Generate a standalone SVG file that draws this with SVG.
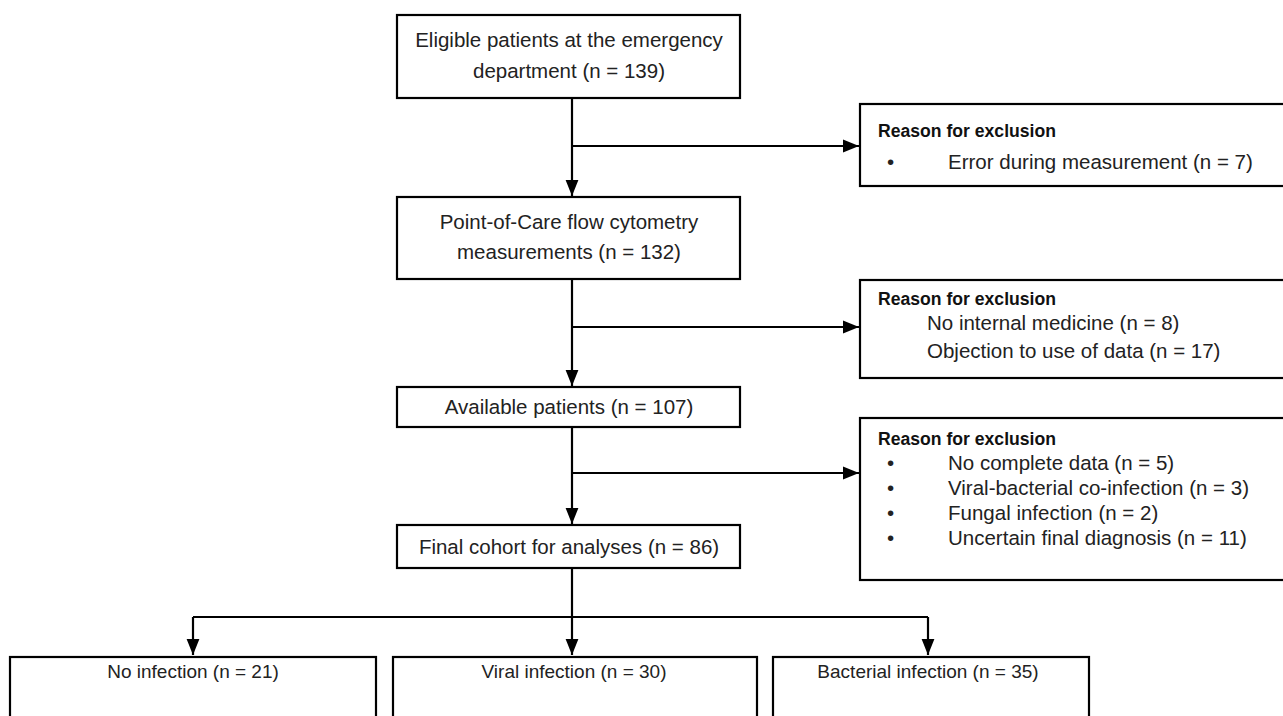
<svg xmlns="http://www.w3.org/2000/svg" width="1283" height="716" viewBox="0 0 1283 716">
<style>
.box{fill:#fff;stroke:#000;stroke-width:2.2}
.t{font-family:"Liberation Sans",Arial,sans-serif;font-size:20.5px;fill:#222}
.s{font-size:19px}
.c{text-anchor:middle}
.b{font-weight:bold;fill:#111;font-size:17.6px}
.ln{fill:none;stroke:#000;stroke-width:2.2}
</style>
<defs>
<marker id="ahl" viewBox="0 0 10 10" refX="10" refY="5" markerWidth="16" markerHeight="16" markerUnits="userSpaceOnUse" orient="auto"><path d="M0,1 L10,5 L0,9 z" fill="#000"/></marker>
</defs>
<g id="connectors">
<path class="ln" d="M572,98 V196" marker-end="url(#ahl)"/>
<path class="ln" d="M572,146 H859" marker-end="url(#ahl)"/>
<path class="ln" d="M572,279 V386" marker-end="url(#ahl)"/>
<path class="ln" d="M572,327 H859" marker-end="url(#ahl)"/>
<path class="ln" d="M572,427 V524" marker-end="url(#ahl)"/>
<path class="ln" d="M572,473 H859" marker-end="url(#ahl)"/>
<path class="ln" d="M572,568 V655" marker-end="url(#ahl)"/>
<path class="ln" d="M193,617 H928" />
<path class="ln" d="M193,617 V655" marker-end="url(#ahl)"/>
<path class="ln" d="M928,617 V655" marker-end="url(#ahl)"/>
</g>
<g id="n1">
<rect class="box" x="397" y="15" width="343" height="83"/>
<text class="t c" x="569" y="47">Eligible patients at the emergency</text>
<text class="t c" x="569" y="78">department (n = 139)</text>
</g>
<g id="n2">
<rect class="box" x="397" y="197" width="343" height="82"/>
<text class="t c" x="569" y="229">Point-of-Care flow cytometry</text>
<text class="t c" x="569" y="259">measurements (n = 132)</text>
</g>
<g id="n3">
<rect class="box" x="397" y="387" width="343" height="40"/>
<text class="t c" x="569" y="414">Available patients (n = 107)</text>
</g>
<g id="n4">
<rect class="box" x="397" y="525" width="343" height="43"/>
<text class="t c" x="569" y="554">Final cohort for analyses (n = 86)</text>
</g>
<g id="e1">
<rect class="box" x="860" y="104" width="440" height="82"/>
<text class="t b" x="878" y="137">Reason for exclusion</text>
<text class="t" x="887" y="169">•</text>
<text class="t" x="948" y="169">Error during measurement (n = 7)</text>
</g>
<g id="e2">
<rect class="box" x="860" y="280" width="440" height="98"/>
<text class="t b" x="878" y="305">Reason for exclusion</text>
<text class="t" x="927" y="330">No internal medicine (n = 8)</text>
<text class="t" x="927" y="358">Objection to use of data (n = 17)</text>
</g>
<g id="e3">
<rect class="box" x="860" y="418" width="440" height="162"/>
<text class="t b" x="878" y="445">Reason for exclusion</text>
<text class="t" x="887" y="470">•</text>
<text class="t" x="948" y="470">No complete data (n = 5)</text>
<text class="t" x="887" y="495">•</text>
<text class="t" x="948" y="495">Viral-bacterial co-infection (n = 3)</text>
<text class="t" x="887" y="520">•</text>
<text class="t" x="948" y="520">Fungal infection (n = 2)</text>
<text class="t" x="887" y="545">•</text>
<text class="t" x="948" y="545">Uncertain final diagnosis (n = 11)</text>
</g>
<g id="o1">
<rect class="box" x="10" y="657" width="366" height="80"/>
<text class="t s c" x="193" y="678">No infection (n = 21)</text>
</g>
<g id="o2">
<rect class="box" x="393" y="657" width="364" height="80"/>
<text class="t s c" x="574" y="678">Viral infection (n = 30)</text>
</g>
<g id="o3">
<rect class="box" x="773" y="657" width="316" height="80"/>
<text class="t s c" x="928" y="678">Bacterial infection (n = 35)</text>
</g>
</svg>
